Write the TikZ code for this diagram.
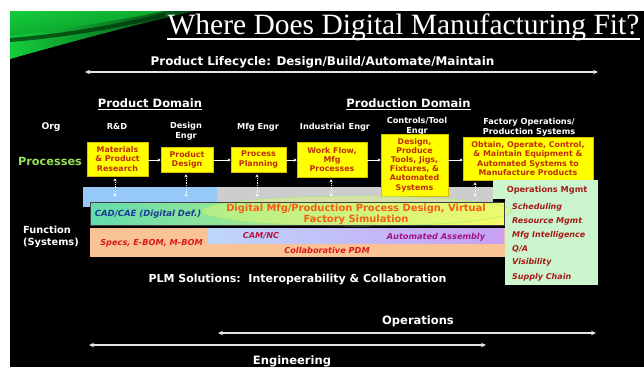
\documentclass[tikz,border=0pt]{standalone}
\usepackage{fontspec}
\setmainfont{DejaVu Sans}
\newfontfamily\titlefont{Liberation Serif}
\usetikzlibrary{arrows.meta}

\newcommand\setfs[2]{\fontsize{#1pt}{#2pt}\selectfont}

\definecolor{boxyellow}{RGB}{255,255,0}
\definecolor{boxedge}{RGB}{215,190,0}
\definecolor{boxtext}{RGB}{190,45,10}
\definecolor{procgreen}{RGB}{150,225,90}
\definecolor{bandblue}{RGB}{150,200,250}
\definecolor{bandgray}{RGB}{205,205,205}
\definecolor{opsgreen}{RGB}{205,245,205}
\definecolor{opsred}{RGB}{165,25,25}
\definecolor{cadteal}{RGB}{100,220,175}
\definecolor{cadmid}{RGB}{200,240,120}
\definecolor{cadyellow}{RGB}{250,250,100}
\definecolor{cadtext}{RGB}{30,60,150}
\definecolor{digorange}{RGB}{245,95,20}
\definecolor{glow}{RGB}{225,250,120}
\definecolor{glowedge}{RGB}{150,235,110}
\definecolor{peach}{RGB}{250,195,150}
\definecolor{specred}{RGB}{215,25,25}
\definecolor{camblue}{RGB}{190,215,250}
\definecolor{camviolet}{RGB}{200,160,245}
\definecolor{camtext}{RGB}{185,20,70}
\definecolor{asmtext}{RGB}{160,20,130}
\definecolor{spangray}{RGB}{228,228,228}
\definecolor{swooshA}{RGB}{20,205,60}
\definecolor{swooshB}{RGB}{10,165,45}
\definecolor{swooshDark}{RGB}{0,50,10}

\begin{document}
\begin{tikzpicture}[x=1pt,y=-1pt,
  lbl/.style={text=white, font=\bfseries\setfs{8.2}{10}, align=center, inner sep=0pt},
  head/.style={text=white, font=\bfseries\setfs{11.5}{13}, inner sep=0pt},
  ybox/.style={fill=boxyellow, draw=boxedge, line width=.5pt, text=boxtext,
               font=\bfseries\setfs{7.9}{9.2}, align=center, inner sep=0pt},
  flow/.style={draw=white, line width=.7pt, -{Stealth[length=3pt,width=3pt]}},
  link/.style={draw=white, line width=.8pt, densely dotted,
               {Stealth[length=3pt,width=3pt]}-{Stealth[length=3pt,width=3pt]}},
  span/.style={draw=spangray, line width=1.6pt,
               {Stealth[length=5pt,width=4.5pt]}-{Stealth[length=5pt,width=4.5pt]}},
  item/.style={text=opsred, font=\bfseries\itshape\setfs{8}{9}, anchor=west, inner sep=0pt},
  sysitem/.style={font=\bfseries\itshape\setfs{8.2}{9}, inner sep=0pt}]

\useasboundingbox (0,0) rectangle (644,367);
\fill[white] (0,0) rectangle (644,367);
\fill[black] (10,11) rectangle (644,367);

% green swoosh in the upper left corner
\shade[left color=swooshA, middle color=swooshB, right color=black!60!swooshB]
  (10,11) -- (195,11) .. controls (145,22) and (70,42) .. (10,59) -- cycle;
\shade[top color=swooshA, bottom color=swooshB, opacity=.7]
  (10,11) -- (165,11) .. controls (120,20) and (60,30) .. (10,36) -- cycle;
\draw[swooshDark, line width=4pt, opacity=.7]
  (10,40) .. controls (60,36) and (110,28) .. (165,15);

% title
\node[text=white, font=\titlefont\setfs{29.5}{30}, inner sep=0pt, anchor=base]
  (title) at (403.5,34) {Where Does Digital Manufacturing Fit?};
\draw[white, line width=1.2pt]
  ([yshift=-5pt]title.base west) -- ([yshift=-5pt]title.base east);

% product lifecycle span
\node[text=white, font=\bfseries\setfs{11.9}{13}, inner sep=0pt] (life) at (322.5,62)
  {Product Lifecycle: Design/Build/Automate/Maintain};
\coordinate (lifeL) at (85,72);
\coordinate (lifeR) at (598,72);
\draw[span] (lifeL) -- (lifeR);

% domains
\node[head, anchor=base] (pdom) at (150,107) {Product Domain};
\draw[white, line width=.9pt] ([yshift=-2.5pt]pdom.base west) -- ([yshift=-2.5pt]pdom.base east);
\node[head, anchor=base] (ddom) at (408.5,107) {Production Domain};
\draw[white, line width=.9pt] ([yshift=-2.5pt]ddom.base west) -- ([yshift=-2.5pt]ddom.base east);

% organisation row
\node[lbl, font=\bfseries\setfs{9.2}{10}] (org) at (51,127) {Org};
\node[lbl] (o1) at (117,126.5) {R\&D};
\node[lbl] (o2) at (186,131.5) {Design\\Engr};
\node[lbl] (o3) at (258,127) {Mfg Engr};
\node[lbl] (o4) at (335,127) {Industrial\enspace Engr};
\node[lbl] (o5) at (417,126.5) {Controls/Tool\\Engr};
\node[lbl] (o6) at (529,127) {Factory Operations/\\Production Systems};

% background band under the process row
\fill[bandblue] (83,187) rectangle (217,207);
\fill[bandgray] (217,187) rectangle (493,206);

% process row
\node[text=procgreen, font=\bfseries\setfs{11.3}{12}, inner sep=0pt] (proc) at (50,161) {Processes};
\node[ybox, minimum width=61pt, minimum height=34pt] (b1) at (117.5,159) {Materials\\\& Product\\Research};
\node[ybox, minimum width=52pt, minimum height=25pt] (b2) at (187,159.5) {Product\\Design};
\node[ybox, minimum width=55pt, minimum height=25pt] (b3) at (258.5,159.5) {Process\\Planning};
\node[ybox, minimum width=70pt, minimum height=35pt] (b4) at (332,159.5) {Work Flow,\\Mfg\\Processes};
\node[ybox, minimum width=67pt, minimum height=62pt] (b5) at (414.5,165) {Design,\\Produce\\Tools, Jigs,\\Fixtures, \&\\Automated\\Systems};
\node[ybox, minimum width=130pt, minimum height=43pt] (b6) at (528,158.5) {Obtain, Operate, Control,\\\& Maintain Equipment \&\\Automated Systems to\\Manufacture Products};

\coordinate (fy) at (0,160);
\draw[flow] (b1.east |- fy) -- (b2.west |- fy);
\draw[flow] (b2.east |- fy) -- (b3.west |- fy);
\draw[flow] (b3.east |- fy) -- (b4.west |- fy);
\draw[flow] (b4.east |- fy) -- (b5.west |- fy);
\draw[flow] (b5.east |- fy) -- (b6.west |- fy);

% links from processes down to the systems band
\coordinate (d1) at (115,197);
\coordinate (d2) at (186,197);
\coordinate (d3) at (257,197);
\coordinate (d4) at (331,197);
\coordinate (d6) at (475,197);
\draw[link] ([yshift=-2pt]d1 |- b1.south) -- (d1);
\draw[link] ([yshift=-2pt]d2 |- b2.south) -- (d2);
\draw[link] ([yshift=-2pt]d3 |- b3.south) -- (d3);
\draw[link] ([yshift=-2pt]d4 |- b4.south) -- (d4);
\draw[link] ([yshift=-2pt]d6 |- b6.south) -- (d6);

% operations management column
\fill[opsgreen] (493,180) rectangle (598,199);
\fill[opsgreen] (505,199) rectangle (598,285);
\node[text=opsred, font=\bfseries\setfs{8.2}{9}, inner sep=0pt] (opsm) at (547,190) {Operations Mgmt};
\node[item] (i1) at (512,207) {Scheduling};
\node[item] (i2) at (512,221) {Resource Mgmt};
\node[item] (i3) at (512,235) {Mfg Intelligence};
\node[item] (i4) at (512,249) {Q/A};
\node[item] (i5) at (512,262) {Visibility};
\node[item] (i6) at (512,277) {Supply Chain};

% systems layers
\shade[left color=cadteal, middle color=cadmid, right color=cadyellow]
  (90,202) rectangle (504,225);
\fill[glow, opacity=.45] (357,211) ellipse [x radius=155pt, y radius=15pt];
\draw[glowedge, line width=.6pt, opacity=.6] (357,211) ellipse [x radius=155pt, y radius=15pt];
\draw[black!75, line width=.6pt] (90,202) rectangle (504,225);
\node[sysitem, text=cadtext, font=\bfseries\itshape\setfs{8.5}{9}] (cad) at (148,214) {CAD/CAE (Digital Def.)};
\node[text=digorange, font=\bfseries\setfs{9.9}{11}, align=center, inner sep=0pt] (dig) at (356,214)
  {Digital Mfg/Production Process Design, Virtual\\Factory Simulation};

\fill[peach] (90,228) rectangle (505,257);
\shade[left color=camblue, right color=camviolet] (208,228) rectangle (504,243);
\node[sysitem, text=specred] (spec) at (151.5,243) {Specs, E-BOM, M-BOM};
\node[sysitem, text=camtext] (cam) at (261,236) {CAM/NC};
\node[sysitem, text=asmtext] (asm) at (436,237) {Automated Assembly};
\node[sysitem, text=specred] (pdm) at (327,250) {Collaborative PDM};

\node[text=white, font=\bfseries\setfs{9.8}{12}, align=left, anchor=west, inner sep=0pt]
  (func) at (23,237) {Function\\(Systems)};

% PLM line and the two spans
\node[text=white, font=\bfseries\setfs{11}{13}, inner sep=0pt] (plm) at (297.5,280)
  {PLM Solutions:\ \ Interoperability \& Collaboration};

\node[head] (ops) at (418,321) {Operations};
\coordinate (opsL) at (218,333);
\coordinate (opsR) at (596,333);
\draw[span] (opsL) -- (opsR);
\coordinate (engL) at (89,345);
\coordinate (engR) at (486,345);
\draw[span] (engL) -- (engR);
\node[head] (eng) at (292,361) {Engineering};
\end{tikzpicture}
\end{document}
